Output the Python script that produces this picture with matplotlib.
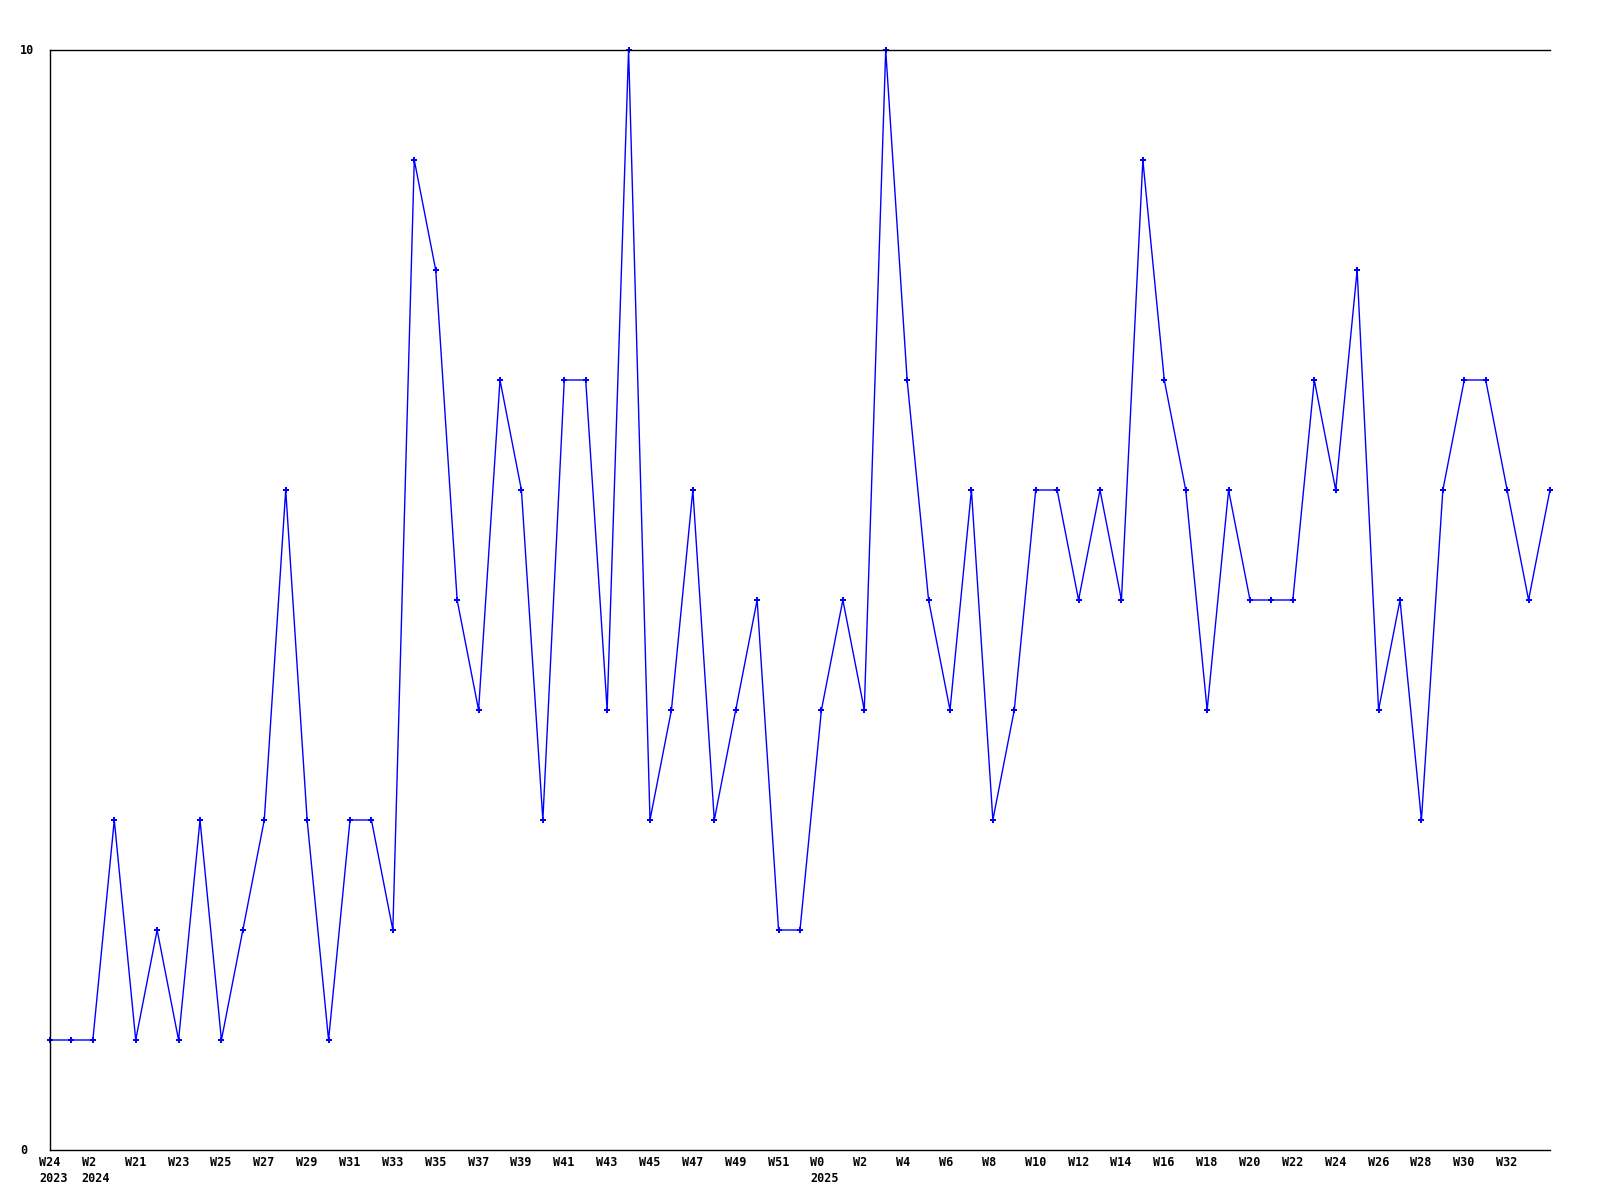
import matplotlib
matplotlib.use("Agg")
import matplotlib.pyplot as plt
import matplotlib.transforms as mtransforms

# weekly counts, one per week
values = [1, 1, 1, 3, 1, 2, 1, 3, 1, 2,
          3, 6, 3, 1, 3, 3, 2, 9, 8, 5,
          4, 7, 6, 3, 7, 7, 4, 10, 3, 4,
          6, 3, 4, 5, 2, 2, 4, 5, 4, 10,
          7, 5, 4, 6, 3, 4, 6, 6, 5, 6,
          5, 9, 7, 6, 4, 6, 5, 5, 5, 7,
          6, 8, 4, 5, 3, 6, 7, 7, 6, 5,
          6]

tick_idx = list(range(0, 70, 2))
tick_labels = (["W24\n2023", "W2\n2024"]
               + ["W%d" % w for w in range(21, 52, 2)]
               + ["W0\n2025"]
               + ["W%d" % w for w in range(2, 33, 2)])
y_ticks = [0, 10]

fig = plt.figure(figsize=(16, 12), dpi=100)
ax = fig.add_axes([50 / 1600, 50 / 1200, 1500 / 1600, 1100 / 1200])

x = list(range(len(values)))
ax.plot(x, values, color="#0000ff", lw=1, marker="P", markersize=4,
        markeredgewidth=0, clip_on=False)

ax.set_xlim(0, len(values) - 1)
ax.set_ylim(0, 10)
ax.spines["right"].set_visible(False)
for s in ["left", "top", "bottom"]:
    ax.spines[s].set_linewidth(1)
ax.set_xticks([])
ax.set_yticks([])

font = dict(fontfamily="DejaVu Sans Mono", fontweight="bold", fontsize=8.5)

# x labels: left-aligned a bit before each tick position
xoff = mtransforms.ScaledTranslation(-11 / 100, -6 / 100, fig.dpi_scale_trans)
for i, lab in zip(tick_idx, tick_labels):
    ax.text(i, 0, lab, transform=ax.get_xaxis_transform() + xoff,
            ha="left", va="top", linespacing=1.25, **font)

# y labels at the far left
yoff = mtransforms.ScaledTranslation(-30 / 100, 0, fig.dpi_scale_trans)
for v in y_ticks:
    ax.text(0, v, str(v), transform=ax.get_yaxis_transform() + yoff,
            ha="left", va="center", **font)

fig.savefig("out.png", dpi=100, facecolor="white")
